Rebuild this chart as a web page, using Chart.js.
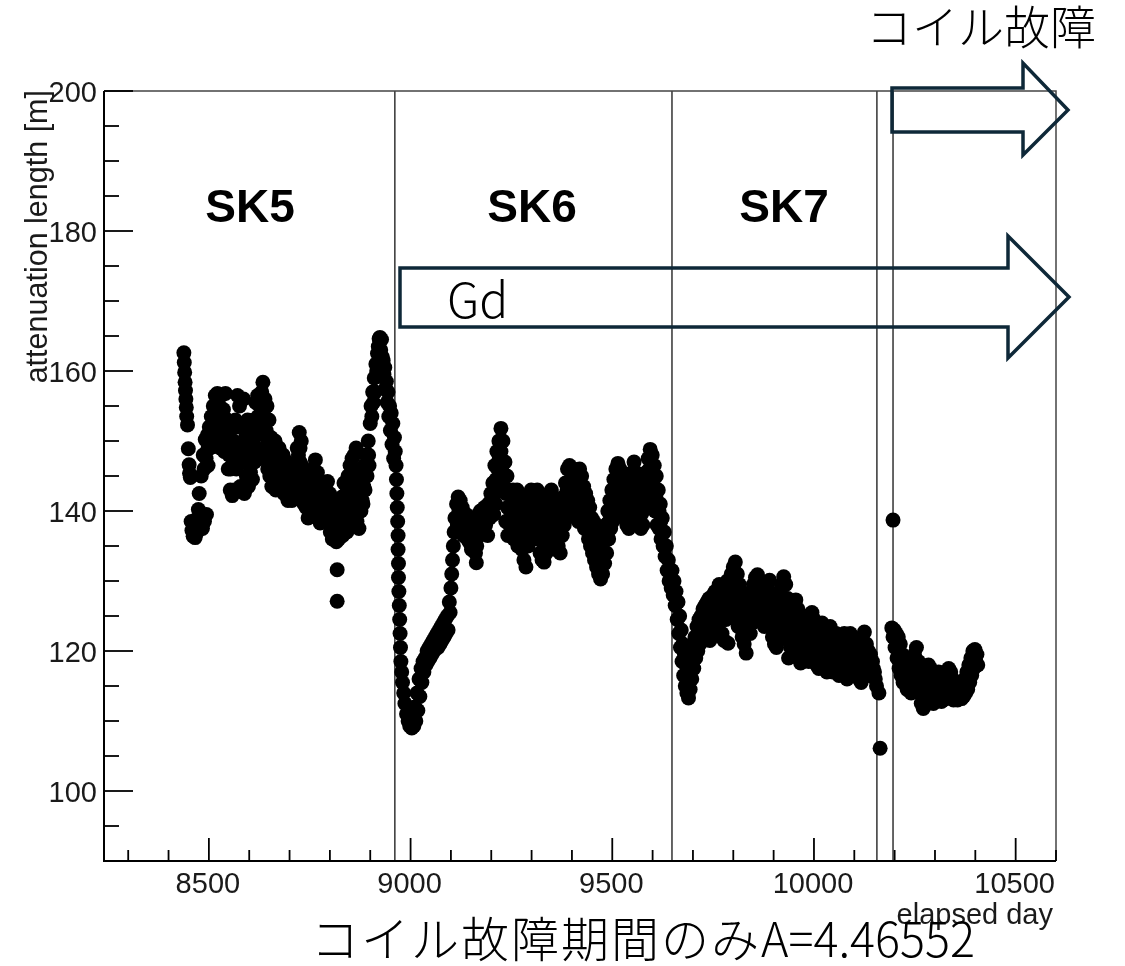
<!DOCTYPE html>
<html lang="ja">
<head>
<meta charset="UTF-8">
<title>attenuation length</title>
<script src="https://cdn.jsdelivr.net/npm/chart.js"></script>
<style>
  html, body { margin: 0; padding: 0; background: #fff; }
  #wrap { width: 1125px; height: 966px; }
</style>
</head>
<body>
<div id="wrap"><canvas id="attChart" width="1125" height="966"></canvas></div>
<script>
// elapsed day vs. attenuation length [m]
const sk5Points = [
  [8438,162.6],[8439,161.2],[8440,159.8],[8441,158.4],[8442,157.2],[8443,156.0],[8444,154.8],[8445,153.5],
  [8447,152.3],[8449,148.9],[8451,146.6],[8452,145.4],[8454,144.8],[8456,138.5],[8458,137.2],[8461,136.4],
  [8464,137.8],[8466,136.2],[8469,138.8],[8471,137.0],[8474,140.2],[8476,142.5],[8479,139.5],[8481,145.0],
  [8484,137.5],[8486,148.0],[8488,146.0],[8489,138.5],[8491,150.2],[8493,147.5],[8494,139.5],[8496,150.8],
  [8498,146.5],[8501,152.0],[8503,149.0],[8506,153.5],[8508,150.0],[8511,155.0],[8513,151.5],[8516,156.5],
  [8518,149.5],[8521,156.8],[8523,152.0],[8526,155.0],[8528,149.0],[8531,156.5],[8533,151.0],[8536,154.5],
  [8538,148.5],[8541,156.8],[8543,150.0],[8546,153.0],[8548,146.0],[8551,150.5],[8553,143.0],[8556,148.0],
  [8558,142.2],[8561,150.0],[8563,143.0],[8566,153.0],[8568,146.0],[8571,156.5],[8573,149.5],[8576,155.0],
  [8578,143.5],[8581,152.0],[8583,147.0],[8586,156.0],[8588,142.5],[8591,150.5],[8593,145.0],[8596,153.0],
  [8598,143.5],[8601,150.0],[8603,145.5],[8606,151.5],[8608,144.5],[8611,153.0],[8613,147.0],[8616,155.5],
  [8618,149.0],[8621,156.5],[8623,151.0],[8626,155.0],[8628,147.5],[8631,157.0],[8634,158.4],[8636,152.0],
  [8639,156.0],[8641,148.5],[8644,155.0],[8646,146.0],[8649,153.0],[8651,145.0],[8654,150.5],[8656,143.5],
  [8659,149.5],[8661,145.0],[8664,150.0],[8666,143.0],[8669,148.5],[8671,144.5],[8674,149.0],[8676,143.0],
  [8679,147.5],[8681,144.0],[8684,148.0],[8686,142.5],[8689,146.5],[8691,143.0],[8694,147.0],[8696,141.5],
  [8699,146.0],[8701,142.5],[8704,145.5],[8706,141.5],[8709,144.0],[8711,142.0],[8714,146.5],[8716,142.5],
  [8719,149.0],[8721,145.0],[8724,151.2],[8726,147.0],[8729,150.0],[8731,143.5],[8734,146.0],[8736,141.0],
  [8739,144.5],[8741,140.5],[8744,143.5],[8746,139.0],[8749,142.5],[8751,140.0],[8754,144.0],[8756,139.5],
  [8759,146.0],[8761,141.0],[8764,147.3],[8766,142.0],[8769,145.5],[8771,139.0],[8774,143.5],[8776,138.3],
  [8779,142.0],[8781,140.0],[8784,141.5],[8786,139.0],[8789,143.0],[8791,140.5],[8794,144.2],[8796,138.5],
  [8799,142.5],[8801,137.0],[8804,141.0],[8806,136.0],[8809,140.0],[8811,136.5],[8814,139.5],[8816,135.6],
  [8818,131.6],[8818,127.1],[8820,138.0],[8822,136.0],[8825,140.5],[8827,137.5],[8830,142.0],[8832,136.5],
  [8835,144.0],[8837,138.0],[8840,142.5],[8842,137.0],[8845,145.0],[8847,139.5],[8850,146.5],[8852,141.0],
  [8855,147.5],[8857,142.0],[8860,148.0],[8862,140.0],[8865,149.0],[8867,138.5],[8870,145.5],[8872,137.5],
  [8875,142.0],[8877,140.0],[8880,144.0],[8882,141.0],[8885,146.5],[8887,143.0],[8890,148.0],[8892,145.0],
  [8895,150.0],[8897,146.5],[8900,152.5],[8902,155.0],[8904,153.5],[8906,157.0],[8908,155.5],[8910,159.0],
  [8912,157.0],[8914,161.0],[8916,160.0],[8918,162.5],[8920,163.5],[8922,164.6],[8924,164.8],[8926,163.0],
  [8928,164.5],[8930,162.0],[8932,161.5],[8934,159.5],[8936,160.5],[8938,157.5],[8940,158.5],[8942,155.5],
  [8944,157.0],[8946,153.5],[8948,155.0],[8950,151.5],[8952,154.0],[8954,149.5],[8956,152.5],[8958,147.5],
  [8960,150.5]
];

// readings inside the SK5 band
const sk5Mid = [
  [8498,149.0],[8502,150.5],[8506,151.5],[8510,152.5],[8514,153.0],[8518,153.5],[8522,154.0],[8526,152.5],
  [8530,153.0],[8534,152.5],[8538,151.5],[8542,153.0],[8546,150.0],[8550,148.0],[8554,146.0],[8558,146.5],
  [8562,147.0],[8566,149.5],[8570,152.0],[8574,152.5],[8578,149.5],[8582,148.5],[8586,149.0],[8590,147.5],
  [8594,148.0],[8598,147.5],[8602,148.0],[8606,148.5],[8610,150.0],[8614,151.5],[8618,152.5],[8622,153.5],
  [8626,151.5],[8630,153.0],[8634,155.0],[8638,153.5],[8642,151.5],[8646,150.0],[8650,149.0],[8654,147.5],
  [8658,146.5],[8662,147.5],[8666,146.5],[8670,146.5],[8674,146.0],[8678,145.5],[8682,146.0],[8686,145.0],
  [8690,145.0],[8694,144.5],[8698,143.5],[8702,144.0],[8706,143.5],[8710,143.0],[8714,144.5],[8718,146.0],
  [8722,148.0],[8726,149.0],[8730,146.5],[8734,144.0],[8738,142.5],[8742,142.0],[8746,141.0],[8750,141.5],
  [8754,141.5],[8758,143.0],[8762,144.0],[8766,144.5],[8770,142.0],[8774,141.0],[8778,140.0],[8782,140.5],
  [8786,141.0],[8790,141.5],[8794,141.0],[8798,140.0],[8802,139.0],[8806,138.5],[8810,138.0],[8814,137.5],
  [8820,137.5],[8824,138.5],[8828,139.5],[8832,139.5],[8836,141.0],[8840,140.0],[8844,141.5],[8848,143.0],
  [8852,144.0],[8856,145.0],[8860,144.5],[8864,143.5],[8868,142.0],[8872,140.5],[8876,140.5],[8880,141.5],
  [8884,143.5],[8888,145.0],[8892,146.5],[8896,148.0]
];

const sk6Points = [
  [8962,148.5],[8964,146.5],[8965,144.5],[8966,142.5],[8967,140.5],[8968,138.5],[8969,136.5],[8969,134.5],
  [8970,132.5],[8970,130.5],[8971,128.5],[8972,126.5],[8973,124.5],[8974,122.5],[8975,120.5],[8976,118.5],
  [8978,117.0],[8980,115.5],[8983,114.0],[8986,112.5],[8990,111.0],[8994,110.0],[8998,109.3],[9003,109.0],
  [9006,110.5],[9008,109.3],[9011,112.0],[9013,110.0],[9016,114.0],[9018,111.5],[9021,116.0],[9023,113.5],
  [9026,117.5],[9028,115.5],[9031,118.5],[9033,117.0],[9036,119.0],[9038,118.0],[9041,120.0],[9043,118.5],
  [9046,120.5],[9048,119.0],[9051,121.0],[9053,119.5],[9056,121.5],[9058,120.0],[9061,122.0],[9063,120.5],
  [9066,122.5],[9068,120.5],[9071,123.0],[9073,121.0],[9076,123.5],[9078,121.5],[9081,124.0],[9083,122.0],
  [9086,124.5],[9088,122.5],[9091,125.0],[9093,123.0],[9096,127.0],[9098,125.5],[9100,129.0],[9102,131.0],
  [9104,133.0],[9106,135.0],[9108,137.0],[9110,139.0],[9112,137.0],[9114,141.0],[9116,138.0],[9118,142.0],
  [9121,139.5],[9123,141.5],[9126,137.0],[9128,140.5],[9131,136.5],[9133,139.5],[9136,138.0],[9138,139.5],
  [9141,136.0],[9143,138.5],[9146,135.5],[9148,137.5],[9151,134.5],[9153,138.5],[9156,136.0],[9158,139.0],
  [9161,134.0],[9163,132.6],[9166,137.0],[9168,139.5],[9171,136.5],[9173,140.0],[9176,137.5],[9178,139.5],
  [9181,137.0],[9183,140.5],[9186,138.0],[9188,140.0],[9191,136.5],[9193,141.0],[9196,139.0],[9199,142.5],
  [9201,140.0],[9204,144.0],[9206,139.5],[9209,146.5],[9211,141.0],[9214,148.5],[9216,143.0],[9219,150.0],
  [9221,145.0],[9224,151.8],[9226,146.0],[9229,150.0],[9231,143.0],[9234,147.0],[9236,138.5],[9239,145.0],
  [9241,136.5],[9244,143.0],[9246,138.0],[9249,142.5],[9251,139.0],[9254,143.0],[9256,136.0],[9259,141.5],
  [9261,138.0],[9264,143.0],[9266,135.0],[9269,141.0],[9271,137.5],[9274,142.0],[9276,134.5],[9279,140.0],
  [9281,133.0],[9284,139.0],[9286,132.0],[9289,137.5],[9291,135.0],[9294,141.0],[9296,137.0],[9299,143.0],
  [9301,138.0],[9304,142.5],[9306,136.0],[9309,141.0],[9311,138.5],[9314,143.0],[9316,136.5],[9319,141.5],
  [9321,134.0],[9324,140.0],[9326,133.0],[9329,138.5],[9331,132.7],[9334,137.0],[9336,134.0],[9339,141.0],
  [9341,137.0],[9344,142.5],[9346,139.0],[9349,143.0],[9351,137.5],[9354,142.0],[9356,136.0],[9359,141.5],
  [9361,134.5],[9364,140.5],[9366,135.0],[9369,139.0],[9371,134.0],[9374,140.0],[9376,136.5],[9379,142.0],
  [9381,138.0],[9384,144.0],[9386,139.5],[9389,146.0],[9391,140.5],[9394,146.5],[9396,141.0],[9399,145.5],
  [9401,139.5],[9404,146.0],[9406,140.0],[9409,145.5],[9411,139.0],[9414,144.5],[9416,138.5],[9419,146.0],
  [9421,140.0],[9424,145.0],[9426,138.5],[9429,143.5],[9431,137.5],[9434,142.5],[9436,138.0],[9439,141.5],
  [9441,136.0],[9444,140.5],[9446,135.0],[9449,139.0],[9451,134.0],[9454,138.5],[9456,133.0],[9459,137.5],
  [9461,132.0],[9464,136.0],[9466,131.0],[9469,135.0],[9471,130.3],[9474,134.5],[9476,131.0],[9479,136.5],
  [9481,132.5],[9484,138.0],[9486,134.0],[9489,140.0],[9491,136.0],[9494,141.5],[9496,137.5],[9499,143.0],
  [9501,138.5],[9504,144.5],[9506,139.0],[9509,146.0],[9511,141.0],[9514,146.8],[9516,142.0],[9519,146.0],
  [9521,141.5],[9524,145.0],[9526,140.5],[9529,144.0],[9531,139.0],[9534,143.0],[9536,138.0],[9539,142.0],
  [9541,137.5],[9544,143.5],[9546,139.5],[9549,145.5],[9551,141.0],[9554,147.0],[9556,142.0],[9559,145.5],
  [9561,139.5],[9564,144.0],[9566,138.0],[9569,142.0],[9571,137.5],[9574,141.5],[9576,138.0],[9579,143.0],
  [9581,140.5],[9584,145.5],[9586,141.5],[9589,147.5],[9591,143.0],[9594,148.8],[9596,144.0],[9599,148.0],
  [9601,142.0],[9604,146.5],[9606,140.0],[9609,145.0],[9611,138.0],[9614,143.0],[9616,137.5],[9619,141.0],
  [9621,136.0],[9624,139.0],[9626,135.0],[9629,137.0],[9631,133.5],[9634,135.0],[9636,131.5],[9639,133.0],
  [9641,130.0],[9644,131.5],[9646,129.0]
];

// readings inside the SK6 band
const sk6Mid = [
  [9120,140.0],[9124,139.5],[9128,138.5],[9132,138.0],[9136,138.5],[9140,138.0],[9144,137.0],[9148,136.5],
  [9152,136.5],[9156,137.5],[9160,136.5],[9164,135.0],[9168,137.5],[9172,138.0],[9176,138.5],[9180,138.5],
  [9184,139.0],[9188,139.0],[9192,139.0],[9196,140.5],[9200,141.5],[9204,142.0],[9208,143.5],[9212,144.5],
  [9216,146.0],[9220,147.5],[9224,148.5],[9228,147.0],[9232,145.0],[9236,142.5],[9240,140.5],[9244,140.5],
  [9248,140.0],[9252,141.0],[9256,139.0],[9260,139.5],[9264,139.0],[9268,138.0],[9272,139.5],[9276,137.5],
  [9280,136.5],[9284,135.5],[9288,135.0],[9292,138.0],[9296,139.5],[9300,140.5],[9304,139.5],[9308,138.5],
  [9312,140.5],[9316,139.5],[9320,137.5],[9324,136.5],[9328,135.5],[9332,135.0],[9336,136.5],[9340,139.0],
  [9344,140.5],[9348,141.0],[9352,140.0],[9356,139.0],[9360,138.0],[9364,137.5],[9368,137.0],[9372,137.0],
  [9376,138.0],[9380,140.0],[9384,141.0],[9388,143.0],[9392,143.5],[9396,143.5],[9400,142.5],[9404,143.0],
  [9408,142.5],[9412,142.0],[9416,141.5],[9420,143.0],[9424,142.0],[9428,140.5],[9432,140.0],[9436,140.0],
  [9440,139.0],[9444,137.5],[9448,137.0],[9452,136.0],[9456,135.5],[9460,134.5],[9464,134.0],[9468,133.0],
  [9472,132.5],[9476,133.0],[9480,134.0],[9484,136.0],[9488,137.0],[9492,138.5],[9496,139.5],[9500,141.0],
  [9504,141.5],[9508,143.5],[9512,144.0],[9516,144.0],[9520,143.5],[9524,142.5],[9528,142.0],[9532,141.0],
  [9536,140.5],[9540,140.0],[9544,141.5],[9548,142.5],[9552,144.0],[9556,144.5],[9560,142.5],[9564,141.0],
  [9568,140.0],[9572,139.5],[9576,140.0],[9580,141.5],[9584,143.5],[9588,145.0],[9592,146.0],[9596,146.0],
  [9600,145.0],[9604,143.5],[9608,142.0],[9612,140.5],[9616,140.0],[9620,138.5]
];

const sk7Points = [
  [9648,131.5],[9651,128.0],[9653,130.0],[9656,126.5],[9658,128.5],[9661,124.5],[9663,127.0],[9665,122.5],
  [9667,125.0],[9669,120.5],[9671,123.0],[9673,118.5],[9675,121.0],[9677,116.5],[9679,119.5],[9681,115.0],
  [9683,118.0],[9685,114.0],[9687,116.5],[9689,113.3],[9691,117.5],[9693,114.5],[9695,119.0],[9697,116.0],
  [9700,120.5],[9702,117.5],[9705,122.0],[9707,119.0],[9710,123.5],[9712,120.0],[9715,124.5],[9717,121.0],
  [9720,125.0],[9722,121.5],[9725,126.0],[9727,122.0],[9730,126.5],[9732,122.5],[9735,127.0],[9737,123.0],
  [9740,127.5],[9742,121.5],[9745,127.0],[9747,123.0],[9750,128.0],[9752,124.0],[9755,128.5],[9757,122.5],
  [9760,127.5],[9762,124.0],[9765,129.5],[9767,125.0],[9770,128.0],[9772,122.5],[9775,127.0],[9777,121.5],
  [9780,128.5],[9782,124.5],[9785,130.0],[9787,121.1],[9790,129.5],[9792,125.0],[9795,131.0],[9797,126.0],
  [9800,132.0],[9802,127.0],[9805,132.7],[9807,126.5],[9810,131.0],[9812,123.5],[9815,129.5],[9817,125.0],
  [9820,128.5],[9822,122.0],[9825,127.5],[9827,121.0],[9830,126.5],[9832,119.7],[9835,128.0],[9837,123.5],
  [9840,127.0],[9842,122.5],[9845,128.0],[9847,124.0],[9850,129.5],[9852,125.5],[9855,130.5],[9857,126.0],
  [9860,130.9],[9862,127.0],[9865,129.5],[9867,125.0],[9870,128.5],[9872,124.5],[9875,127.5],[9877,123.5],
  [9880,128.5],[9882,124.0],[9885,129.5],[9887,125.0],[9890,130.1],[9892,124.5],[9895,128.0],[9897,122.0],
  [9900,127.0],[9902,121.0],[9905,126.0],[9907,120.5],[9910,127.0],[9912,121.5],[9915,128.5],[9917,123.0],
  [9920,129.5],[9922,124.0],[9925,130.6],[9927,125.0],[9930,129.5],[9932,122.0],[9935,127.5],[9937,119.0],
  [9940,126.0],[9942,120.5],[9945,125.0],[9947,119.5],[9950,126.0],[9952,121.0],[9955,127.3],[9957,121.5],
  [9960,126.0],[9962,119.0],[9965,125.0],[9967,118.3],[9970,124.0],[9972,119.5],[9975,125.0],[9977,120.5],
  [9980,124.5],[9982,119.0],[9985,123.5],[9987,118.5],[9990,124.5],[9992,119.5],[9995,125.5],[9997,120.0],
  [10000,124.5],[10002,119.0],[10005,123.5],[10007,118.0],[10010,122.5],[10012,117.5],[10015,123.0],[10017,118.5],
  [10020,124.0],[10022,119.0],[10025,123.0],[10027,118.0],[10030,122.0],[10032,117.0],[10035,122.5],[10037,117.5],
  [10040,123.5],[10042,118.5],[10045,122.0],[10047,117.0],[10050,121.5],[10052,117.5],[10055,122.5],[10057,118.0],
  [10060,121.5],[10062,116.5],[10065,121.0],[10067,117.5],[10070,122.0],[10072,118.0],[10075,122.5],[10077,117.0],
  [10080,121.5],[10082,116.0],[10085,121.0],[10087,116.5],[10090,122.5],[10092,117.5],[10095,122.0],[10097,116.5],
  [10100,121.0],[10102,117.0],[10105,121.5],[10107,116.5],[10110,120.5],[10112,116.0],[10115,120.0],[10117,115.5],
  [10120,121.0],[10122,116.5],[10125,122.7],[10127,117.0],[10130,121.0],[10132,116.5],[10135,120.0],[10137,117.0],
  [10140,119.5],[10142,116.5],[10145,118.5],[10147,117.5],[10150,117.0],[10152,116.0],[10155,115.0],[10161,114.0],
  [10164,106.1]
];

// readings inside the SK7 band
const sk7Mid = [
  [9700,118.5],[9704,119.5],[9708,121.0],[9712,122.0],[9716,122.5],[9720,123.0],[9724,123.5],[9728,124.5],
  [9732,124.5],[9736,125.0],[9740,124.5],[9744,124.5],[9748,125.5],[9752,126.0],[9756,126.0],[9760,125.5],
  [9764,127.0],[9768,126.5],[9772,125.5],[9776,124.5],[9780,126.0],[9784,127.5],[9788,125.5],[9792,127.0],
  [9796,128.5],[9800,129.5],[9804,129.5],[9808,128.5],[9812,127.0],[9816,127.5],[9820,125.5],[9824,124.5],
  [9828,123.5],[9832,123.0],[9836,125.5],[9840,125.0],[9844,125.5],[9848,126.5],[9852,127.5],[9856,128.0],
  [9860,128.5],[9864,127.5],[9868,126.5],[9872,126.0],[9876,125.5],[9880,126.0],[9884,127.0],[9888,127.5],
  [9892,127.0],[9896,125.0],[9900,124.0],[9904,123.5],[9908,123.5],[9912,124.5],[9916,125.5],[9920,126.5],
  [9924,127.5],[9928,127.0],[9932,125.5],[9936,123.5],[9940,123.0],[9944,122.5],[9948,122.5],[9952,123.5],
  [9956,124.5],[9960,123.0],[9964,122.0],[9968,121.0],[9972,121.5],[9976,122.5],[9980,122.0],[9984,121.0],
  [9988,121.0],[9992,122.0],[9996,122.5],[10000,122.0],[10004,121.0],[10008,120.0],[10012,120.0],[10016,120.5],
  [10020,121.5],[10024,120.5],[10028,120.0],[10032,119.5],[10036,120.0],[10040,121.0],[10044,120.0],[10048,119.5],
  [10052,119.5],[10056,120.0],[10060,119.0],[10064,119.0],[10068,119.5],[10072,120.0],[10076,119.5],[10080,119.0],
  [10084,118.5],[10088,119.5],[10092,120.0],[10096,119.5],[10100,119.0],[10104,119.0],[10108,118.5],[10112,118.0],
  [10116,118.0],[10120,118.5],[10124,119.5],[10128,119.0],[10132,118.5],[10136,118.5],[10140,118.0],[10144,117.5]
];

// after the coil failure
const coilPoints = [
  [10196,138.7],[10193,123.3],[10196,122.0],[10199,123.0],[10201,120.5],[10204,122.5],[10206,119.0],[10209,122.0],
  [10211,117.5],[10214,121.0],[10216,116.5],[10219,119.5],[10221,115.5],[10224,118.5],[10226,116.0],[10229,117.5],
  [10231,114.5],[10234,118.0],[10236,115.0],[10239,117.0],[10241,114.0],[10244,118.5],[10246,115.5],[10249,119.5],
  [10251,116.0],[10254,120.5],[10256,116.5],[10259,118.5],[10261,114.0],[10264,117.5],[10266,112.5],[10269,116.5],
  [10271,111.8],[10274,115.5],[10276,113.0],[10279,117.0],[10281,114.0],[10284,118.0],[10286,115.0],[10289,117.5],
  [10291,113.5],[10294,116.0],[10296,112.5],[10299,115.0],[10301,113.0],[10304,116.5],[10306,114.0],[10309,117.0],
  [10311,113.5],[10314,115.5],[10316,112.8],[10319,114.5],[10321,113.0],[10324,115.5],[10326,113.5],[10329,116.5],
  [10331,114.0],[10334,117.5],[10336,114.5],[10339,117.0],[10341,113.5],[10344,116.0],[10346,113.0],[10349,115.0],
  [10351,113.5],[10354,114.5],[10356,113.0],[10359,115.0],[10361,113.5],[10364,114.5],[10366,113.2],[10369,115.0],
  [10371,113.5],[10374,116.0],[10376,114.0],[10379,117.0],[10381,114.5],[10384,118.0],[10386,115.5],[10389,119.0],
  [10391,116.5],[10394,120.0],[10396,117.5],[10399,120.2],[10401,118.5],[10404,119.5],[10406,118.0]
];

const coilMid = [
  [10230,116.0],[10238,115.5],[10246,117.0],[10254,118.0],[10262,116.0],[10270,114.0],[10278,115.0],[10286,116.0],
  [10294,114.5],[10302,114.5],[10310,115.0],[10318,113.5],[10326,114.5],[10334,115.5],[10342,115.0],[10350,114.0],
  [10358,114.0],[10366,114.0],[10374,115.0],[10382,116.0],[10390,117.5],[10398,118.5]
];

const boundaryDays = [8961, 9648, 10156, 10196];
const periodNames = ['SK5', 'SK6', 'SK7'];
const xTickLabels = [8500, 9000, 9500, 10000, 10500];
const yTickLabels = [100, 120, 140, 160, 180, 200];

const allPoints = [
  ...sk5Points, ...sk5Mid, ...sk6Points, ...sk6Mid,
  ...sk7Points, ...sk7Mid, ...coilPoints, ...coilMid
].map(p => ({ x: p[0], y: p[1] }));

function drawArrow(ctx, x0, yTop, yBot, xHead, yHeadTop, yHeadBot, xTip, yTip) {
  ctx.beginPath();
  ctx.moveTo(x0, yTop);
  ctx.lineTo(xHead, yTop);
  ctx.lineTo(xHead, yHeadTop);
  ctx.lineTo(xTip, yTip);
  ctx.lineTo(xHead, yHeadBot);
  ctx.lineTo(xHead, yBot);
  ctx.lineTo(x0, yBot);
  ctx.closePath();
  ctx.stroke();
}

// ROOT-like frame: inward ticks, thin boundary lines, slide annotations
const rootFrame = {
  id: 'rootFrame',
  beforeDatasetsDraw(chart) {
    const { ctx, chartArea: a, scales: { x } } = chart;
    ctx.save();
    ctx.strokeStyle = '#333';
    ctx.lineWidth = 1.5;
    boundaryDays.forEach(d => {
      const px = x.getPixelForValue(d);
      ctx.beginPath();
      ctx.moveTo(px, a.top);
      ctx.lineTo(px, a.bottom);
      ctx.stroke();
    });
    ctx.restore();
  },
  afterDatasetsDraw(chart) {
    const { ctx, chartArea: a, scales: { x, y } } = chart;
    ctx.save();

    // top / right frame
    ctx.strokeStyle = '#444';
    ctx.lineWidth = 1.5;
    ctx.beginPath();
    ctx.moveTo(a.left, a.top);
    ctx.lineTo(a.right, a.top);
    ctx.lineTo(a.right, a.bottom);
    ctx.stroke();

    // axes
    ctx.strokeStyle = '#000';
    ctx.lineWidth = 2;
    ctx.beginPath();
    ctx.moveTo(a.left, a.top);
    ctx.lineTo(a.left, a.bottom);
    ctx.lineTo(a.right, a.bottom);
    ctx.stroke();

    ctx.lineWidth = 1.8;
    for (let v = 95; v <= 200; v += 5) {
      const py = y.getPixelForValue(v);
      const len = yTickLabels.includes(v) ? 29 : 15;
      ctx.beginPath();
      ctx.moveTo(a.left, py);
      ctx.lineTo(a.left + len, py);
      ctx.stroke();
    }
    for (let d = 8300; d <= 10600; d += 100) {
      const px = x.getPixelForValue(d);
      const len = xTickLabels.includes(d) ? 23 : 11;
      ctx.beginPath();
      ctx.moveTo(px, a.bottom);
      ctx.lineTo(px, a.bottom - len);
      ctx.stroke();
    }

    // tick labels
    ctx.fillStyle = '#1a1a1a';
    ctx.font = '29px "Liberation Sans", Arial, sans-serif';
    ctx.textBaseline = 'alphabetic';
    ctx.textAlign = 'right';
    yTickLabels.forEach(v => {
      ctx.fillText(String(v), 97, y.getPixelForValue(v) + 11);
    });
    ctx.textAlign = 'center';
    xTickLabels.forEach(d => {
      ctx.fillText(String(d), x.getPixelForValue(d) - 1, a.bottom + 32);
    });

    // axis titles
    ctx.textAlign = 'right';
    ctx.font = '29px "Liberation Sans", Arial, sans-serif';
    ctx.fillText('elapsed day', 1053, 924);
    ctx.save();
    ctx.translate(47, 90);
    ctx.rotate(-Math.PI / 2);
    ctx.font = '30.5px "Liberation Sans", Arial, sans-serif';
    ctx.fillText('attenuation length [m]', 0, 0);
    ctx.restore();

    // period names
    ctx.fillStyle = '#000';
    ctx.textAlign = 'center';
    ctx.font = 'bold 46px "Liberation Sans", Arial, sans-serif';
    const nameX = [250, 532, 784];
    periodNames.forEach((n, i) => ctx.fillText(n, nameX[i], 222));

    // arrows
    ctx.strokeStyle = '#0e2838';
    ctx.lineWidth = 3.5;
    ctx.lineJoin = 'miter';
    drawArrow(ctx, 400, 268, 327, 1008, 236, 358, 1069, 297);
    drawArrow(ctx, 892, 88, 132, 1023, 63, 155, 1068, 110);

    // annotations
    const jp = '"Noto Sans CJK JP", "Noto Sans", sans-serif';
    ctx.textAlign = 'left';
    ctx.font = '300 48px ' + jp;
    ctx.fillText('Gd', 447, 318);
    ctx.font = '300 46px ' + jp;
    ctx.fillText('コイル故障', 866, 44);
    ctx.font = '300 48px ' + jp;
    ctx.letterSpacing = '2px';
    ctx.fillText('コイル故障期間のみ', 311, 957);
    ctx.letterSpacing = '0px';
    ctx.fillText('A=4.46552', 761, 957, 214);
    ctx.restore();
  }
};

new Chart(document.getElementById('attChart'), {
  type: 'scatter',
  data: {
    datasets: [{
      data: allPoints,
      backgroundColor: '#000',
      borderWidth: 0,
      pointRadius: 7.5,
      pointHoverRadius: 7.5
    }]
  },
  options: {
    responsive: false,
    devicePixelRatio: 1,
    animation: false,
    layout: { padding: { left: 104, top: 91, right: 69, bottom: 105 } },
    plugins: { legend: { display: false }, tooltip: { enabled: false } },
    scales: {
      x: { type: 'linear', min: 8240, max: 10600, display: false },
      y: { type: 'linear', min: 90, max: 200, display: false }
    }
  },
  plugins: [rootFrame]
});
</script>
</body>
</html>
